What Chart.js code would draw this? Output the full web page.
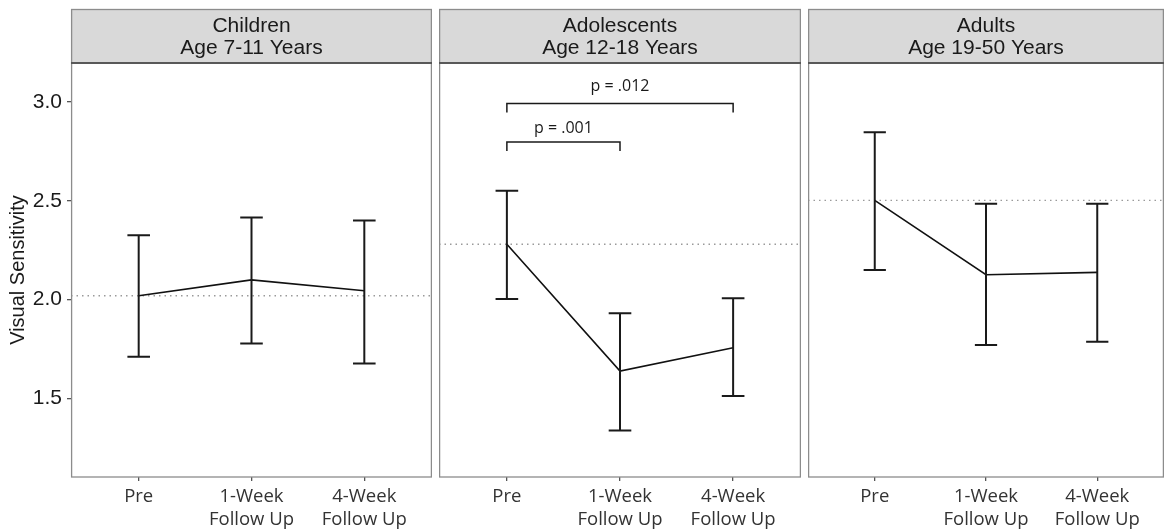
<!DOCTYPE html>
<html lang="en">
<head>
    <meta charset="UTF-8" />
    <title>Visual Sensitivity by Age Group</title>
    <script src="https://cdn.jsdelivr.net/npm/chart.js"></script>
    <style>
        body { margin: 0; background: #fff; }
        #wrap { position: relative; width: 1164px; height: 532px; }
        canvas { position: absolute; top: 0; }
    </style>
</head>
<body>
<div id="wrap">
    <canvas id="c0" width="432" height="532" style="left:0px"></canvas>
    <canvas id="c1" width="362" height="532" style="left:439px"></canvas>
    <canvas id="c2" width="356" height="532" style="left:808px"></canvas>
</div>
<script>
    const timepoints = [['Pre'], ['1-Week', 'Follow Up'], ['4-Week', 'Follow Up']];
    const groupNames = ['Children', 'Adolescents', 'Adults'];
    const ageRanges = ['Age 7-11 Years', 'Age 12-18 Years', 'Age 19-50 Years'];

    const childrenMean = [2.02, 2.10, 2.045];
    const childrenLow  = [1.712, 1.779, 1.678];
    const childrenHigh = [2.325, 2.415, 2.40];

    const adolescentsMean = [2.28, 1.639, 1.757];
    const adolescentsLow  = [2.003, 1.339, 1.513];
    const adolescentsHigh = [2.551, 1.932, 2.007];

    const adultsMean = [2.502, 2.126, 2.138];
    const adultsLow  = [2.150, 1.771, 1.788];
    const adultsHigh = [2.846, 2.485, 2.485];

    const yTicks = [1.5, 2.0, 2.5, 3.0];
    const yMin = 1.104;
    const yMax = 3.196;

    // pairwise comparisons, adolescents panel only
    const compFrom       = [1, 1];
    const compTo         = [2, 3];
    const compLevel      = [2.797, 2.991];
    const compLabelLevel = [2.864, 3.08];
    const compLabels     = ['p = .001', 'p = .012'];

    const panels = [
        { mean: childrenMean, low: childrenLow, high: childrenHigh },
        { mean: adolescentsMean, low: adolescentsLow, high: adolescentsHigh, comps: true },
        { mean: adultsMean, low: adultsLow, high: adultsHigh }
    ];

    const sansFont = '"Liberation Sans", Arial, sans-serif';
    const tickFont = '"Open Sans", sans-serif';

    // strip header, error bars, comparison brackets, panel border
    const panelDeco = {
        id: 'panelDeco',
        beforeDraw(chart, args, opts) {
            const { ctx, chartArea: a } = chart;
            ctx.save();
            ctx.fillStyle = '#d9d9d9';
            ctx.fillRect(a.left, 9, a.right - a.left, a.top - 9);
            ctx.strokeStyle = '#8c8c8c';
            ctx.lineWidth = 1.3;
            ctx.strokeRect(a.left + 0.6, 9.5, a.right - a.left - 1.2, a.top - 9.5);
            ctx.fillStyle = '#1a1a1a';
            ctx.font = '21px ' + sansFont;
            ctx.textAlign = 'center';
            ctx.textBaseline = 'middle';
            const cx = (a.left + a.right) / 2;
            ctx.fillText(opts.name, cx, 26);
            ctx.fillText(opts.age, cx, 48.5);
            ctx.restore();
        },
        afterDatasetsDraw(chart, args, opts) {
            const { ctx, scales: { x, y } } = chart;
            ctx.save();
            ctx.strokeStyle = '#1a1a1a';
            ctx.lineWidth = 2;
            opts.mean.forEach((m, i) => {
                const px = x.getPixelForValue(i + 1);
                const x0 = x.getPixelForValue(i + 0.9);
                const x1 = x.getPixelForValue(i + 1.1);
                const yl = y.getPixelForValue(opts.low[i]);
                const yh = y.getPixelForValue(opts.high[i]);
                ctx.beginPath();
                ctx.moveTo(px, yl); ctx.lineTo(px, yh);
                ctx.moveTo(x0, yl); ctx.lineTo(x1, yl);
                ctx.moveTo(x0, yh); ctx.lineTo(x1, yh);
                ctx.stroke();
            });
            if (opts.comps) {
                ctx.lineWidth = 1.5;
                ctx.fillStyle = '#1a1a1a';
                ctx.font = '16px ' + tickFont;
                ctx.textAlign = 'center';
                ctx.textBaseline = 'middle';
                compLevel.forEach((lvl, k) => {
                    const xa = x.getPixelForValue(compFrom[k]);
                    const xb = x.getPixelForValue(compTo[k]);
                    const yb = y.getPixelForValue(lvl);
                    ctx.beginPath();
                    ctx.moveTo(xa, yb + 9); ctx.lineTo(xa, yb);
                    ctx.lineTo(xb, yb); ctx.lineTo(xb, yb + 9);
                    ctx.stroke();
                    ctx.fillText(compLabels[k], (xa + xb) / 2, y.getPixelForValue(compLabelLevel[k]));
                });
            }
            ctx.restore();
        },
        afterDraw(chart) {
            const { ctx, chartArea: a } = chart;
            ctx.save();
            ctx.strokeStyle = '#8c8c8c';
            ctx.lineWidth = 1.3;
            ctx.strokeRect(a.left + 0.6, a.top, a.right - a.left - 1.2, a.bottom - a.top);
            ctx.strokeStyle = '#444';
            ctx.beginPath();
            ctx.moveTo(a.left, a.top); ctx.lineTo(a.right, a.top);
            ctx.stroke();
            ctx.restore();
        }
    };

    panels.forEach((p, idx) => {
        const showY = idx === 0;
        new Chart(document.getElementById('c' + idx), {
            type: 'line',
            data: {
                datasets: [
                    {
                        data: p.mean.map((v, i) => ({ x: i + 1, y: v })),
                        borderColor: '#111',
                        borderWidth: 1.6,
                        pointRadius: 0,
                        tension: 0
                    },
                    {
                        data: [{ x: 0.4, y: p.mean[0] }, { x: 3.6, y: p.mean[0] }],
                        borderColor: '#9a9a9a',
                        borderWidth: 1.3,
                        borderDash: [1.5, 4],
                        pointRadius: 0
                    }
                ]
            },
            options: {
                responsive: false,
                animation: false,
                layout: { padding: { top: 63, left: 0, right: 0, bottom: 0 } },
                plugins: {
                    legend: { display: false },
                    tooltip: { enabled: false },
                    panelDeco: {
                        name: groupNames[idx],
                        age: ageRanges[idx],
                        mean: p.mean, low: p.low, high: p.high,
                        comps: !!p.comps
                    }
                },
                scales: {
                    x: {
                        type: 'linear',
                        min: 0.4,
                        max: 3.6,
                        afterBuildTicks: s => { s.ticks = [1, 2, 3].map(v => ({ value: v })); },
                        afterFit: s => { s.height = 55; },
                        border: { display: false },
                        grid: { drawOnChartArea: false, drawTicks: true, tickLength: 4, color: '#555', lineWidth: 1.3 },
                        ticks: {
                            autoSkip: false,
                            maxRotation: 0,
                            padding: 4,
                            color: '#333',
                            font: { family: tickFont, size: 18.5, lineHeight: 1.25 },
                            callback: v => timepoints[v - 1]
                        }
                    },
                    y: {
                        display: showY,
                        min: yMin,
                        max: yMax,
                        afterBuildTicks: s => { s.ticks = yTicks.map(v => ({ value: v })); },
                        afterFit: s => { if (showY) s.width = 71; },
                        border: { display: false },
                        grid: { drawOnChartArea: false, drawTicks: true, tickLength: 4, color: '#555', lineWidth: 1.3 },
                        title: {
                            display: true,
                            text: 'Visual Sensitivity',
                            color: '#1a1a1a',
                            font: { family: sansFont, size: 20 },
                            padding: { top: 6, bottom: 0 }
                        },
                        ticks: {
                            padding: 5,
                            color: '#1a1a1a',
                            font: { family: sansFont, size: 21 },
                            callback: v => v.toFixed(1)
                        }
                    }
                }
            },
            plugins: [panelDeco]
        });
    });
</script>
</body>
</html>
